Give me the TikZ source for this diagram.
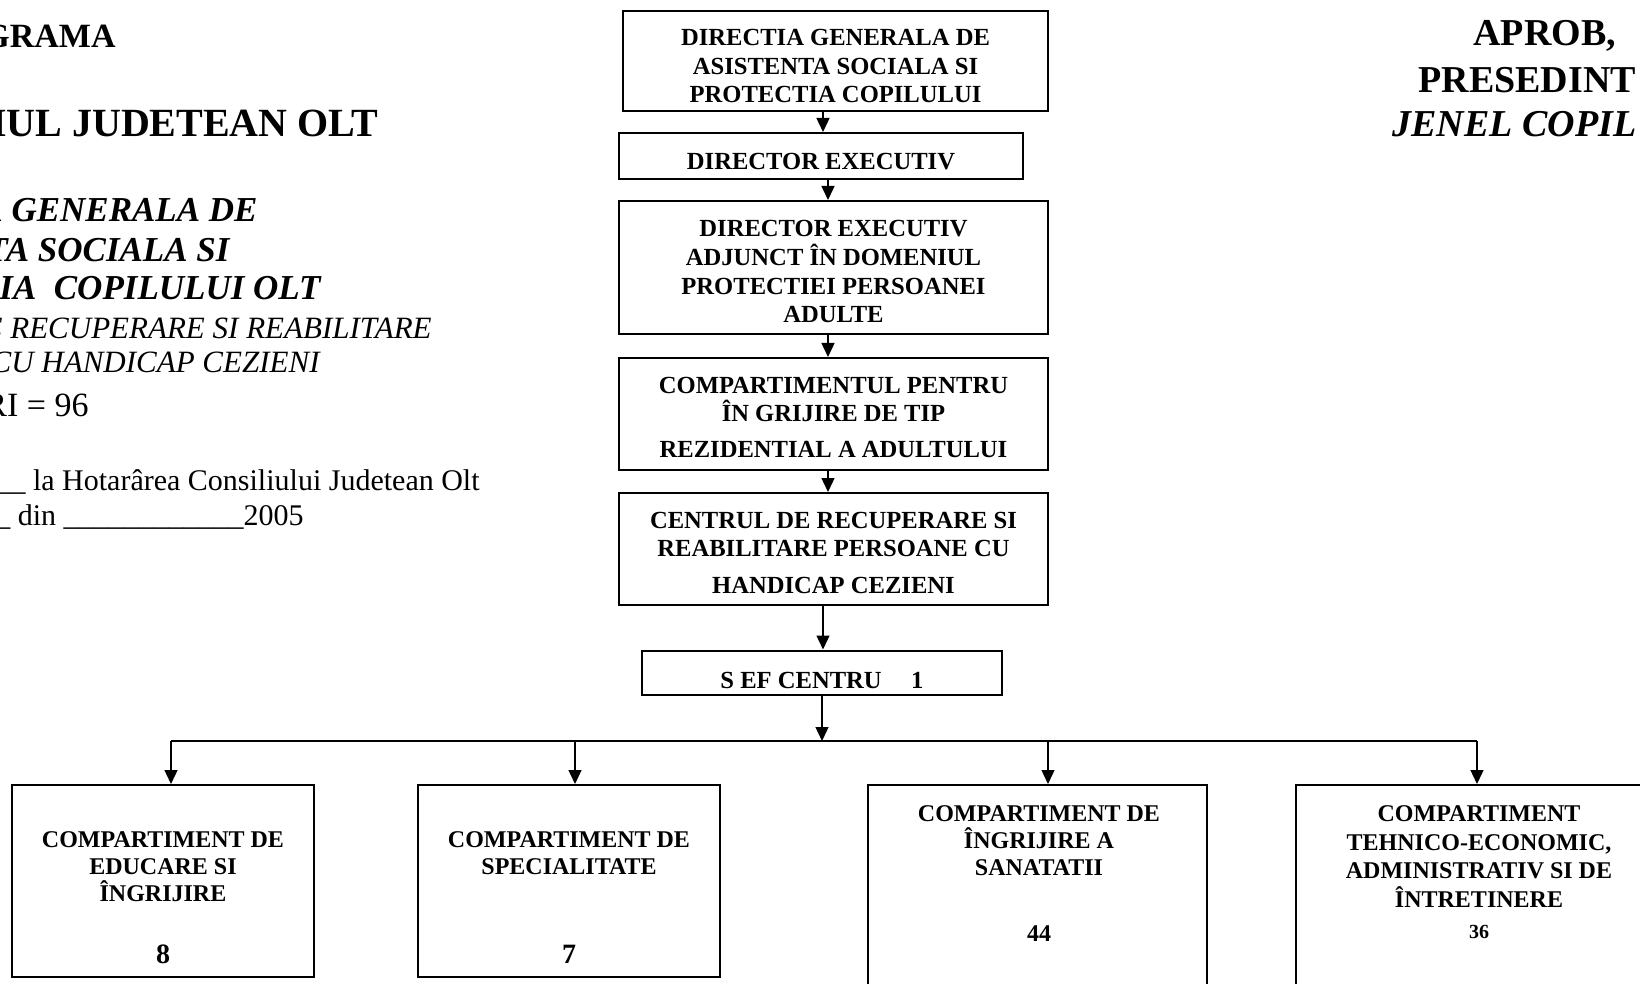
\documentclass[tikz,border=0pt]{standalone}
\usepackage{fontspec}
\setmainfont{Liberation Serif}
\usetikzlibrary{arrows.meta}

\begin{document}
\begin{tikzpicture}[x=0.5pt, y=-0.5pt,
    box/.style={draw, line width=1pt, inner sep=0pt, align=center,
      font=\bfseries\fontsize{12.3}{14.2}\selectfont},
    txt/.style={inner sep=0pt, align=center, font=\bfseries\fontsize{12}{13.5}\selectfont},
    head/.style={inner sep=0pt, anchor=base east},
    right head/.style={inner sep=0pt, anchor=base west},
    arr/.style={line width=0.7pt, -{Triangle[width=6.5pt,length=7pt]}}]
  \useasboundingbox (0,0) rectangle (1640,984);

  % heading left
  \node[head, font=\bfseries\fontsize{17}{20}\selectfont] (org) at (116,48) {GRAMA};
  \node[head, font=\bfseries\fontsize{20}{22}\selectfont] (cj) at (379,137) {IUL JUDETEAN OLT};
  \node[head, font=\bfseries\itshape\fontsize{17.5}{20}\selectfont] (dg1) at (258,222) {A GENERALA DE};
  \node[head, font=\bfseries\itshape\fontsize{17.5}{20}\selectfont] (dg2) at (230,262) {TA SOCIALA SI};
  \node[head, font=\bfseries\itshape\fontsize{17.5}{20}\selectfont] (dg3) at (321,300) {IA\ \ COPILULUI OLT};
  \node[head, font=\itshape\fontsize{15.5}{18}\selectfont] (cr1) at (432,339) {E RECUPERARE SI REABILITARE};
  \node[head, font=\itshape\fontsize{15.5}{18}\selectfont] (cr2) at (320,373) {CU HANDICAP CEZIENI};
  \node[head, font=\fontsize{17}{20}\selectfont] (tot) at (89,416) {RI = 96};
  \node[head, font=\fontsize{15}{18}\selectfont] (hot1) at (480,490) {\_\_ la Hotarârea Consiliului Judetean Olt};
  \node[head, font=\fontsize{15}{18}\selectfont] (hot2) at (304,525) {\_ din \_\_\_\_\_\_\_\_\_\_\_\_2005};

  % heading right
  \node[right head, font=\bfseries\fontsize{19}{22}\selectfont] (aprob) at (1473,46) {APROB,};
  \node[right head, font=\bfseries\fontsize{19}{22}\selectfont] (pres) at (1418,93) {PRESEDINT};
  \node[right head, font=\bfseries\itshape\fontsize{19}{22}\selectfont] (nume) at (1392,137) {JENEL COPIL};

  % main column
  \node[box, font=\bfseries\fontsize{12.3}{14.4}\selectfont,
    minimum width=212.5pt, minimum height=50pt] (dgaspc) at (835.5,61)
    {\rule{0pt}{13.3pt}DIRECTIA GENERALA DE\\ASISTENTA SOCIALA SI\\PROTECTIA COPILULUI};
  \node[box, minimum width=202pt, minimum height=23pt] (director) at (821,156)
    {\rule{0pt}{13.3pt}DIRECTOR EXECUTIV};
  \node[box, font=\bfseries\fontsize{12.3}{14.4}\selectfont,
    minimum width=214.5pt, minimum height=66.5pt] (adjunct) at (833.5,267.5)
    {\rule{0pt}{12.3pt}DIRECTOR EXECUTIV\\ADJUNCT ÎN DOMENIUL\\PROTECTIEI PERSOANEI\\ADULTE};
  \node[box, minimum width=214.5pt, minimum height=56pt] (compart) at (833.5,414)
    {\rule{0pt}{11.3pt}COMPARTIMENTUL PENTRU\\ÎN GRIJIRE DE TIP\\[3.5pt]REZIDENTIAL A ADULTULUI};
  \node[box, minimum width=214.5pt, minimum height=56pt] (centrul) at (833.5,549)
    {\rule{0pt}{11.8pt}CENTRUL DE RECUPERARE SI\\REABILITARE PERSOANE CU\\[4pt]HANDICAP CEZIENI};
  \node[box, minimum width=180pt, minimum height=22pt] (sef) at (822,672.5)
    {\rule{0pt}{16pt}S EF CENTRU\hspace{1.2em}1};

  \coordinate (axa) at (823,0);
  \coordinate (axb) at (828,0);
  \draw[arr] (dgaspc.south -| axa) -- (director.north -| axa);
  \draw[arr] (director.south -| axb) -- (adjunct.north -| axb);
  \draw[arr] (adjunct.south -| axb) -- (compart.north -| axb);
  \draw[arr] (compart.south -| axb) -- (centrul.north -| axb);
  \draw[arr] (centrul.south -| axa) -- (sef.north -| axa);

  % compartments
  \node[box, minimum width=151pt, minimum height=96pt] (ca) at (163,881) {};
  \node[box, minimum width=151pt, minimum height=96pt] (cb) at (569,881) {};
  \node[box, minimum width=169.5pt, minimum height=112.5pt] (cc) at (1037.5,897.5) {};
  \node[box, minimum width=183pt, minimum height=112.5pt] (cd) at (1479,897.5) {};

  \node[txt] (ca-txt) at (163,866.5) {COMPARTIMENT DE\\EDUCARE SI\\ÎNGRIJIRE};
  \node[txt, font=\bfseries\fontsize{14}{16}\selectfont] (ca-nr) at (163,954) {8};
  \node[txt] (cb-txt) at (569,853.5) {COMPARTIMENT DE\\SPECIALITATE};
  \node[txt, font=\bfseries\fontsize{14}{16}\selectfont] (cb-nr) at (569,954) {7};
  \node[txt] (cc-txt) at (1039,840.5) {COMPARTIMENT DE\\ÎNGRIJIRE A\\SANATATII};
  \node[txt] (cc-nr) at (1039,934) {44};
  \node[txt, font=\bfseries\fontsize{12}{14.3}\selectfont] (cd-txt) at (1479,856.5)
    {COMPARTIMENT\\TEHNICO-ECONOMIC,\\ADMINISTRATIV SI DE\\ÎNTRETINERE};
  \node[txt, font=\bfseries\fontsize{10}{12}\selectfont] (cd-nr) at (1479,932) {36};

  \coordinate (ta) at (171,741);
  \coordinate (tb) at (575,741);
  \coordinate (tc) at (1048,741);
  \coordinate (td) at (1477,741);
  \draw[arr] (sef.south) -- (sef.south |- ta);
  \draw[line width=0.9pt] (ta) -- (td);
  \draw[arr] (ta) -- (ca.north -| ta);
  \draw[arr] (tb) -- (cb.north -| tb);
  \draw[arr] (tc) -- (cc.north -| tc);
  \draw[arr] (td) -- (cd.north -| td);
\end{tikzpicture}
\end{document}
